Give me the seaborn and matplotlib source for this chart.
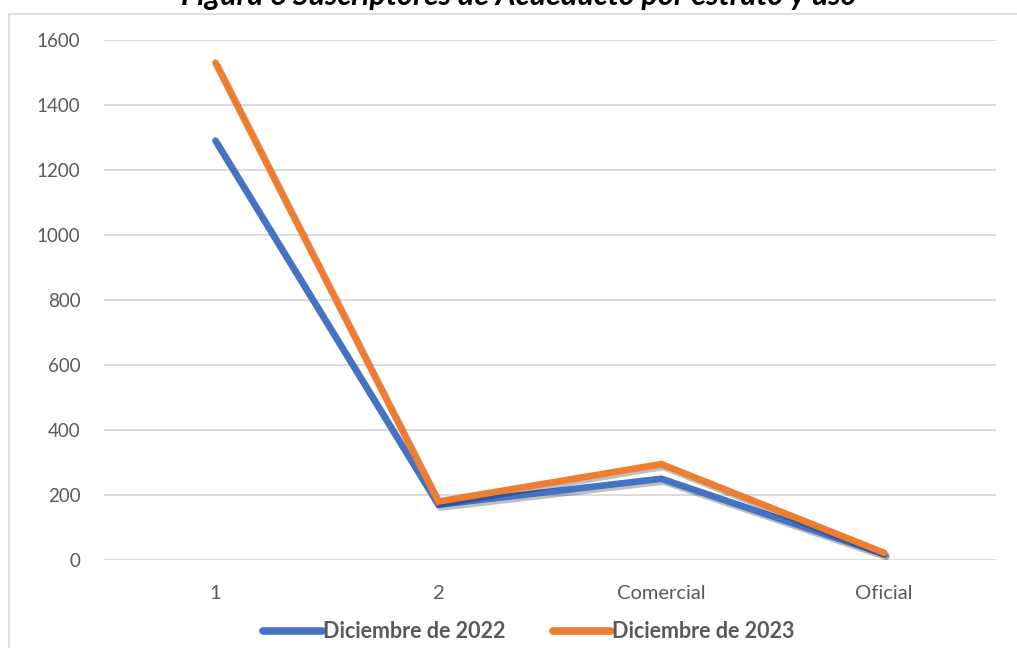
import pandas as pd
import matplotlib.pyplot as plt
import matplotlib.patheffects as pe
from matplotlib.patches import Rectangle
import seaborn as sns

# Data
categorias = ["1", "2", "Comercial", "Oficial"]
dic_2022 = [1290, 170, 250, 18]
dic_2023 = [1530, 180, 295, 22]
series = ["Diciembre de 2022", "Diciembre de 2023"]
colores = ["#4472C4", "#ED7D31"]

df = pd.DataFrame({
    "categoria": categorias * 2,
    "valor": dic_2022 + dic_2023,
    "serie": [series[0]] * 4 + [series[1]] * 4,
})

sns.set_style("white")
plt.rcParams["font.family"] = ["Lato", "DejaVu Sans"]

fig = plt.figure(figsize=(10.17, 6.48), dpi=100)
ax = fig.add_axes([0.1023, 0.1358, 0.8767, 0.8025])

sns.lineplot(data=df, x="categoria", y="valor", hue="serie", palette=colores,
             linewidth=4.8, sort=False, ax=ax)

# legend handles first, before the shadows are added to the lines
handles, labels = ax.get_legend_handles_labels()
ax.get_legend().remove()

for line in ax.get_lines():
    line.set_solid_capstyle("round")
    line.set_solid_joinstyle("miter")
    line.set_path_effects([pe.SimpleLineShadow(offset=(1.5, -2), alpha=0.25, shadow_color="black"),
                           pe.Normal()])

ax.set_xlim(-0.5, 3.5)
ax.set_ylim(0, 1600)
ax.set_yticks(range(0, 1601, 200))
ax.yaxis.grid(True, color="#D9D9D9", linewidth=1.3)
ax.set_axisbelow(True)
for s in ax.spines.values():
    s.set_visible(False)
ax.tick_params(axis="both", length=0, labelsize=13.5, colors="#595959")
ax.tick_params(axis="x", labelsize=14.5, pad=18)
ax.tick_params(axis="y", pad=17)
ax.set_xlabel("")
ax.set_ylabel("")

leg = fig.legend(handles=handles, labels=labels, loc="center", bbox_to_anchor=(0.52, 0.025),
                 ncol=2, frameon=False, handlelength=2.7, handletextpad=0.05, columnspacing=2.2,
                 prop={"size": 15.5, "weight": "bold"}, labelcolor="#595959")
for h in leg.legend_handles:
    h.set_path_effects([])
    h.set_linewidth(5.5)
    h.set_solid_capstyle("round")

# outer chart border
fig.add_artist(Rectangle((0.009, -0.01), 0.995, 0.988, transform=fig.transFigure,
                         fill=False, edgecolor="#D9D9D9", linewidth=1.2))

# title, cut off at the top of the picture as in the original
fig.text(0.51, 0.993, "Figura 6 Suscriptores de Acueducto por estrato y uso", ha="center", va="baseline",
         fontsize=22, fontweight="bold", fontstyle="italic", color="black")

fig.savefig("out.png", dpi=100, facecolor="white")
